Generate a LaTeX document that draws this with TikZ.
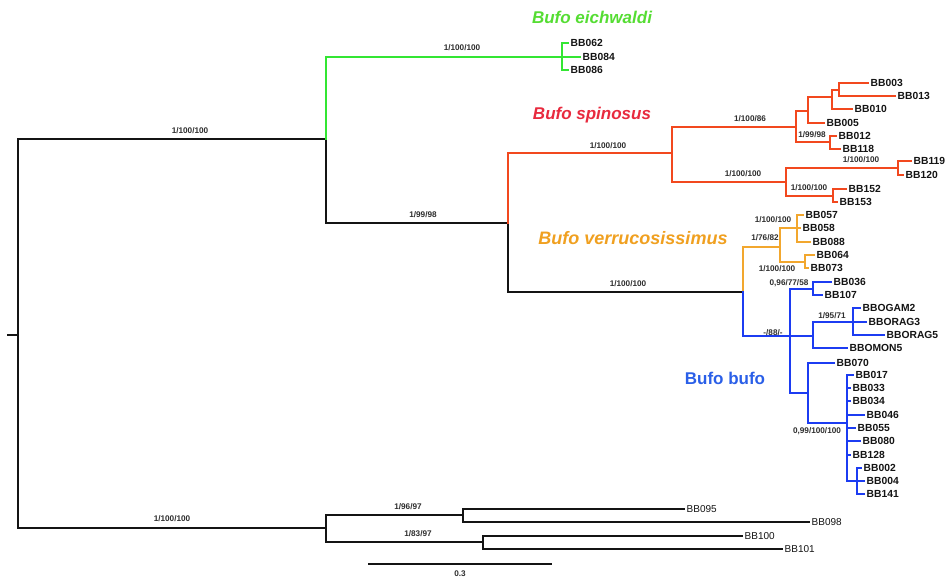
\documentclass[tikz,border=0pt]{standalone}
\usepackage{fontspec}
\setsansfont{Liberation Sans}
\usetikzlibrary{positioning}
\definecolor{ink}{HTML}{141414}
\definecolor{supportgray}{HTML}{2E2E2E}
\definecolor{eichgreen}{HTML}{33E633}
\definecolor{eichtext}{HTML}{55DD33}
\definecolor{spinored}{HTML}{F2481E}
\definecolor{spinotext}{HTML}{E82A3E}
\definecolor{verrorange}{HTML}{F2A72E}
\definecolor{verrtext}{HTML}{F0A020}
\definecolor{bufoblue}{HTML}{1C3CF2}
\definecolor{bufotext}{HTML}{2A5FE8}
\tikzset{
  font=\sffamily,
  branch/.style={
    draw=ink,
    line width=2.6pt,
    line cap=rect
  },
  green branch/.style={branch, draw=eichgreen},
  red branch/.style={branch, draw=spinored},
  orange branch/.style={branch, draw=verrorange},
  blue branch/.style={branch, draw=bufoblue},
  leaf/.style={
    anchor=west,
    inner xsep=2.5pt,
    inner ysep=0pt,
    font=\sffamily\bfseries\fontsize{10.3}{12}\selectfont,
    text=ink
  },
  plain leaf/.style={
    leaf,
    font=\sffamily\fontsize{10}{12}\selectfont
  },
  support/.style={
    font=\sffamily\bfseries\fontsize{8.2}{9}\selectfont,
    text=supportgray,
    inner sep=0pt
  },
  species/.style={
    font=\sffamily\bfseries\itshape\fontsize{17}{20}\selectfont,
    inner sep=0pt
  }
}
\begin{document}
\begin{tikzpicture}[x=1pt, y=-1pt]
\useasboundingbox[fill=white] (0,0) rectangle (948,581);

% ---------------------------------------------------------------------------
% 1. Backbone
% ---------------------------------------------------------------------------
\coordinate (stub) at (8,335);
\coordinate (root) at (18,335);
\coordinate (top) at (326,139);
\coordinate (inner) at (508,223);
\coordinate (crown) at (743,292);
\coordinate (outgroup) at (326,528);

\draw[branch] (stub) -- (root);
\draw[branch] (root) |- (top);
\draw[branch] (root) |- (outgroup);
\draw[branch] (top) |- (inner);
\draw[branch] (inner) |- (crown);

\node[support] at (190,131) {1/100/100};
\node[support] at (423,215) {1/99/98};
\node[support] at (628,284) {1/100/100};

% ---------------------------------------------------------------------------
% 2. Bufo eichwaldi
% ---------------------------------------------------------------------------
\coordinate (eich) at (562,57);
\node[leaf] (bb062) at (568,43) {BB062};
\node[leaf] (bb084) at (580,57) {BB084};
\node[leaf] (bb086) at (568,70) {BB086};

\draw[green branch] (top) |- (eich);
\draw[green branch] (eich) |- (bb062.west);
\draw[green branch] (eich) |- (bb084.west);
\draw[green branch] (eich) |- (bb086.west);

\node[support] at (462,48) {1/100/100};
\node[species, text=eichtext] (eichname) at (592,17) {Bufo eichwaldi};

% ---------------------------------------------------------------------------
% 3. Bufo spinosus
% ---------------------------------------------------------------------------
\coordinate (spino) at (672,153);
\coordinate (spinoA) at (796,127);
\coordinate (spinoB) at (808,111);
\coordinate (spinoC) at (832,97);
\coordinate (spinoD) at (839,90);
\coordinate (spinoE) at (830,142);
\coordinate (spinoF) at (786,182);
\coordinate (spinoG) at (898,168);
\coordinate (spinoH) at (833,196);

\node[leaf] (bb003) at (868,83) {BB003};
\node[leaf] (bb013) at (895,96) {BB013};
\node[leaf] (bb010) at (852,109) {BB010};
\node[leaf] (bb005) at (824,123) {BB005};
\node[leaf] (bb012) at (836,136) {BB012};
\node[leaf] (bb118) at (840,149) {BB118};
\node[leaf] (bb119) at (911,161) {BB119};
\node[leaf] (bb120) at (903,175) {BB120};
\node[leaf] (bb152) at (846,189) {BB152};
\node[leaf] (bb153) at (837,202) {BB153};

\draw[red branch] (inner) |- (spino);
\draw[red branch] (spino) |- (spinoA);
\draw[red branch] (spino) |- (spinoF);
\draw[red branch] (spinoA) |- (spinoB);
\draw[red branch] (spinoA) |- (spinoE);
\draw[red branch] (spinoB) |- (spinoC);
\draw[red branch] (spinoB) |- (bb005.west);
\draw[red branch] (spinoC) |- (spinoD);
\draw[red branch] (spinoC) |- (bb010.west);
\draw[red branch] (spinoD) |- (bb003.west);
\draw[red branch] (spinoD) |- (bb013.west);
\draw[red branch] (spinoE) |- (bb012.west);
\draw[red branch] (spinoE) |- (bb118.west);
\draw[red branch] (spinoF) |- (spinoG);
\draw[red branch] (spinoF) |- (spinoH);
\draw[red branch] (spinoG) |- (bb119.west);
\draw[red branch] (spinoG) |- (bb120.west);
\draw[red branch] (spinoH) |- (bb152.west);
\draw[red branch] (spinoH) |- (bb153.west);

\node[support] at (608,146) {1/100/100};
\node[support] at (750,119) {1/100/86};
\node[support] at (743,174) {1/100/100};
\node[support] at (812,135) {1/99/98};
\node[support] at (861,160) {1/100/100};
\node[support] at (809,188) {1/100/100};
\node[species, text=spinotext] (spinoname) at (592,115) {Bufo spinosus};

% ---------------------------------------------------------------------------
% 4. Bufo verrucosissimus
% ---------------------------------------------------------------------------
\coordinate (verr) at (780,247);
\coordinate (verrA) at (797,228);
\coordinate (verrB) at (805,262);

\node[leaf] (bb057) at (803,215) {BB057};
\node[leaf] (bb058) at (800,228) {BB058};
\node[leaf] (bb088) at (810,242) {BB088};
\node[leaf] (bb064) at (814,255) {BB064};
\node[leaf] (bb073) at (808,268) {BB073};

\draw[orange branch] (crown) |- (verr);
\draw[orange branch] (verr) |- (verrA);
\draw[orange branch] (verr) |- (verrB);
\draw[orange branch] (verrA) |- (bb057.west);
\draw[orange branch] (verrA) |- (bb058.west);
\draw[orange branch] (verrA) |- (bb088.west);
\draw[orange branch] (verrB) |- (bb064.west);
\draw[orange branch] (verrB) |- (bb073.west);

\node[support] at (773,220) {1/100/100};
\node[support] at (765,238) {1/76/82};
\node[support] at (777,269) {1/100/100};
\node[species, font=\sffamily\bfseries\itshape\fontsize{18}{21}\selectfont, text=verrtext] (verrname) at (633,238) {Bufo verrucosissimus};

% ---------------------------------------------------------------------------
% 5. Bufo bufo
% ---------------------------------------------------------------------------
\coordinate (bufo) at (790,336);
\coordinate (bufoA) at (813,289);
\coordinate (bufoB) at (813,336);
\coordinate (bufoC) at (853,322);
\coordinate (bufoD) at (808,393);
\coordinate (bufoE) at (847,423);
\coordinate (bufoF) at (857,481);

\node[leaf] (bb036) at (831,282) {BB036};
\node[leaf] (bb107) at (822,295) {BB107};
\node[leaf] (bbogam2) at (860,308) {BBOGAM2};
\node[leaf] (bborag3) at (866,322) {BBORAG3};
\node[leaf] (bborag5) at (884,335) {BBORAG5};
\node[leaf] (bbomon5) at (847,348) {BBOMON5};
\node[leaf] (bb070) at (834,363) {BB070};
\node[leaf] (bb017) at (853,375) {BB017};
\node[leaf] (bb033) at (850,388) {BB033};
\node[leaf] (bb034) at (850,401) {BB034};
\node[leaf] (bb046) at (864,415) {BB046};
\node[leaf] (bb055) at (855,428) {BB055};
\node[leaf] (bb080) at (860,441) {BB080};
\node[leaf] (bb128) at (850,455) {BB128};
\node[leaf] (bb002) at (861,468) {BB002};
\node[leaf] (bb004) at (864,481) {BB004};
\node[leaf] (bb141) at (864,494) {BB141};

\draw[blue branch] (crown) |- (bufo);
\draw[blue branch] (bufo) |- (bufoA);
\draw[blue branch] (bufo) |- (bufoB);
\draw[blue branch] (bufo) |- (bufoD);
\draw[blue branch] (bufoA) |- (bb036.west);
\draw[blue branch] (bufoA) |- (bb107.west);
\draw[blue branch] (bufoB) |- (bufoC);
\draw[blue branch] (bufoB) |- (bbomon5.west);
\draw[blue branch] (bufoC) |- (bbogam2.west);
\draw[blue branch] (bufoC) |- (bborag3.west);
\draw[blue branch] (bufoC) |- (bborag5.west);
\draw[blue branch] (bufoD) |- (bb070.west);
\draw[blue branch] (bufoD) |- (bufoE);
\draw[blue branch] (bufoE) |- (bb017.west);
\draw[blue branch] (bufoE) |- (bb033.west);
\draw[blue branch] (bufoE) |- (bb034.west);
\draw[blue branch] (bufoE) |- (bb046.west);
\draw[blue branch] (bufoE) |- (bb055.west);
\draw[blue branch] (bufoE) |- (bb080.west);
\draw[blue branch] (bufoE) |- (bb128.west);
\draw[blue branch] (bufoE) |- (bufoF);
\draw[blue branch] (bufoF) |- (bb002.west);
\draw[blue branch] (bufoF) |- (bb004.west);
\draw[blue branch] (bufoF) |- (bb141.west);

\node[support] at (789,283) {0,96/77/58};
\node[support] at (773,333) {-/88/-};
\node[support] at (832,316) {1/95/71};
\node[support] at (817,431) {0,99/100/100};
\node[species, font=\sffamily\bfseries\fontsize{17}{20}\selectfont, text=bufotext] (bufoname) at (725,378) {Bufo bufo};

% ---------------------------------------------------------------------------
% 6. Outgroup and scale
% ---------------------------------------------------------------------------
\coordinate (outA) at (463,515);
\coordinate (outB) at (483,542);

\node[plain leaf] (bb095) at (684,509) {BB095};
\node[plain leaf] (bb098) at (809,522) {BB098};
\node[plain leaf] (bb100) at (742,536) {BB100};
\node[plain leaf] (bb101) at (782,549) {BB101};

\draw[branch] (outgroup) |- (outA);
\draw[branch] (outgroup) |- (outB);
\draw[branch] (outA) |- (bb095.west);
\draw[branch] (outA) |- (bb098.west);
\draw[branch] (outB) |- (bb100.west);
\draw[branch] (outB) |- (bb101.west);

\node[support] at (172,519) {1/100/100};
\node[support] at (408,507) {1/96/97};
\node[support] at (418,534) {1/83/97};

\coordinate (scaleL) at (368,564);
\coordinate (scaleR) at (552,564);
\draw[branch, line cap=butt] (scaleL) -- node[support, below=5pt] {0.3} (scaleR);

\end{tikzpicture}
\end{document}
